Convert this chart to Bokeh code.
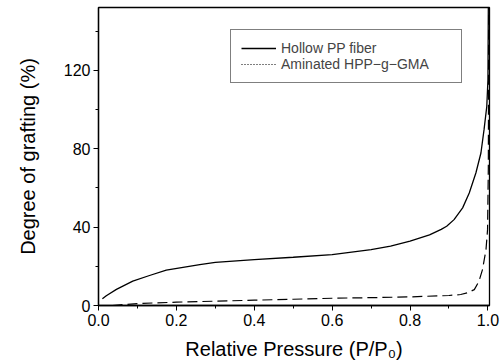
from bokeh.plotting import figure
from bokeh.models import Legend, LegendItem, SingleIntervalTicker, NumeralTickFormatter, Range1d
from bokeh.embed import file_html
from bokeh.resources import INLINE

# Hollow PP fiber (solid)
x_pp = [0.01, 0.02, 0.046, 0.088, 0.131, 0.174, 0.26, 0.3, 0.4, 0.5, 0.6, 0.7, 0.75, 0.8,
        0.85, 0.88, 0.894, 0.913, 0.935, 0.952, 0.969, 0.982, 0.99, 0.997, 1.0, 1.001]
y_pp = [3.4, 5.0, 8.2, 12.4, 15.3, 18.0, 20.9, 22.0, 23.4, 24.6, 26.0, 28.5, 30.3, 32.8,
        36.0, 38.8, 40.4, 43.8, 49.8, 57.4, 67.6, 77.8, 89.7, 101.5, 115.0, 152.0]

# Aminated HPP-g-GMA (dashed)
x_am = [0.036, 0.1, 0.2, 0.3, 0.4, 0.5, 0.6, 0.7, 0.8, 0.9, 0.93, 0.948, 0.965, 0.977,
        0.986, 0.995, 0.999, 1.001, 1.002]
y_am = [0.0, 1.0, 1.7, 2.2, 2.7, 3.2, 3.7, 4.0, 4.4, 5.1, 5.6, 6.5, 8.1, 12.4,
        18.3, 28.5, 38.7, 70.0, 152.0]

x_ticks_interval = 0.2
y_ticks_interval = 40

FONT = "Liberation Sans"

p = figure(width=504, height=362, output_backend="svg", toolbar_location=None,
           x_range=Range1d(0, 1.004), y_range=Range1d(0, 152),
           min_border_left=98, min_border_right=15, min_border_top=7, min_border_bottom=56)
p.background_fill_color = "white"
p.border_fill_color = "white"
p.grid.visible = False
p.outline_line_color = "black"
p.outline_line_width = 1.3

l_pp = p.line(x_pp, y_pp, line_color="black", line_width=1.3)
l_am = p.line(x_am, y_am, line_color="black", line_width=1.2, line_dash="10 5")
# legend sample (single point -> draws nothing in the plot)
l_dot = p.line(x_am[:1], y_am[:1], line_color="black", line_width=1.2, line_dash="1 2")

for ax in (p.xaxis[0], p.yaxis[0]):
    ax.major_tick_out = 5
    ax.major_tick_in = 0
    ax.minor_tick_out = 3
    ax.minor_tick_in = 0
    ax.axis_line_color = "black"
    ax.axis_line_width = 1.3
    ax.major_tick_line_color = "black"
    ax.minor_tick_line_color = "black"
    ax.major_label_text_font = FONT
    ax.major_label_text_font_size = "16px"
    ax.major_label_text_color = "black"
    ax.axis_label_text_font = FONT
    ax.axis_label_text_font_size = "20px"
    ax.axis_label_text_font_style = "normal"
    ax.axis_label_text_color = "black"

p.xaxis[0].ticker = SingleIntervalTicker(interval=x_ticks_interval, num_minor_ticks=2)
p.xaxis[0].formatter = NumeralTickFormatter(format="0.0")
p.xaxis[0].major_label_standoff = 3
p.xaxis[0].axis_label = "Relative Pressure (P/P\u2080)"
p.xaxis[0].axis_label_standoff = 9

p.yaxis[0].ticker = SingleIntervalTicker(interval=y_ticks_interval, num_minor_ticks=2)
p.yaxis[0].major_label_standoff = 3
p.yaxis[0].axis_label = "Degree of grafting (%)"
p.yaxis[0].axis_label_standoff = 22

legend = Legend(items=[LegendItem(label="Hollow PP fiber", renderers=[l_pp]),
                       LegendItem(label="Aminated HPP\u2212g\u2212GMA", renderers=[l_dot])],
                location=(132, 222), padding=10, spacing=0, margin=0,
                glyph_width=35, glyph_height=12, label_height=12, label_standoff=5,
                label_text_font=FONT, label_text_font_size="14px", label_width=170,
                border_line_color="black", border_line_width=1.2,
                background_fill_alpha=1.0)
p.add_layout(legend, "center")

open("out.html", "w").write(file_html(p, INLINE))
